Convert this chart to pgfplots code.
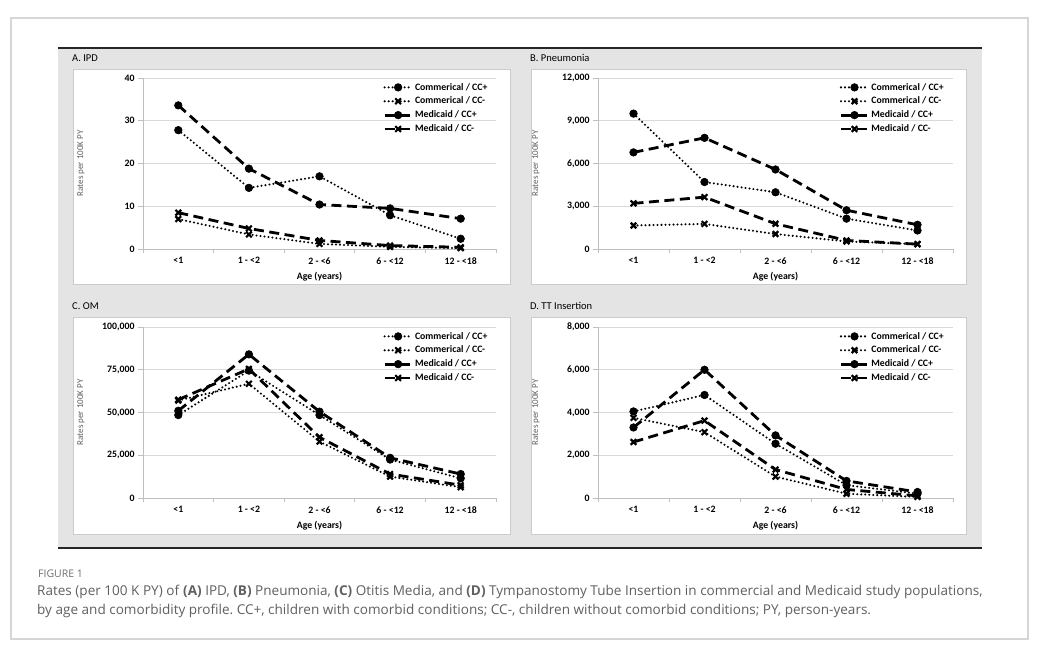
\documentclass[border=0pt]{standalone}
\usepackage{fontspec}
\setmainfont{Carlito}
\newfontfamily\capfont{Open Sans}
\usepackage{pgfplots}
\pgfplotsset{compat=1.18}

\definecolor{panelgray}{HTML}{E4E4E4}
\definecolor{boxedge}{HTML}{CCCCCC}
\definecolor{framegray}{HTML}{D6D6D6}
\definecolor{gridgray}{HTML}{D9D9D9}
\definecolor{axisgray}{HTML}{BFBFBF}
\definecolor{capgray}{HTML}{606060}

\pgfplotsset{
  ratechart/.style={
    scale only axis, height=171pt,
    xmin=-0.5, xmax=4.5, ymin=0,
    xtick={0,1,2,3,4},
    xticklabels={<1, 1 - <2, 2 - <6, 6 - <12, 12 - <18},
    minor xtick={-0.5,0.5,...,4.5},
    major x tick style={draw=none},
    axis x line*=bottom, axis y line*=left,
    axis line style={axisgray, line width=0.8pt, -},
    ymajorgrids, major grid style={gridgray, line width=0.8pt},
    tick style={axisgray, line width=0.8pt},
    tick align=outside, major tick length=5pt, minor tick length=4pt,
    ticklabel style={font=\bfseries\fontsize{9.8}{11}\selectfont, text=black},
    /pgf/number format/fixed,
    /pgf/number format/assume math mode=true,
    /pgf/number format/1000 sep={,},
    scaled y ticks=false,
    xlabel={Age (years)},
    ylabel={Rates per 100K PY},
    every axis x label/.style={at={(axis description cs:0.5,0)}, anchor=center,
      yshift=-28pt, font=\bfseries\fontsize{9.8}{11}\selectfont},
    every axis y label/.style={at={(axis description cs:0,0.5)}, anchor=center,
      xshift=-62pt, rotate=90, font=\fontsize{9}{10}\selectfont, text=capgray},
    legend style={draw=none, fill=none, at={(axis description cs:0.68,1)},
      anchor=north west, yshift=-3pt, inner sep=0pt, row sep=1.5pt,
      font=\bfseries\fontsize{9.8}{11}\selectfont, cells={anchor=west}},
    legend image code/.code={\draw[#1, mark repeat=2, mark phase=2]
      plot coordinates {(0pt,0pt) (13.5pt,0pt) (27pt,0pt)};},
    legend entries={Commerical / CC+, Commerical / CC-, Medicaid / CC+, Medicaid / CC-},
  },
  comp/.style={black, line width=2.3pt, line cap=round, dash pattern=on 0pt off 4pt,
    mark=*, mark size=3.8pt, mark options={solid, line width=0.6pt}},
  comm/.style={black, line width=2.3pt, line cap=round, dash pattern=on 0pt off 4pt,
    mark=x, mark size=4pt, mark options={solid, line width=2.2pt, line cap=butt}},
  medp/.style={black, line width=2.8pt, dash pattern=on 10pt off 5.5pt,
    mark=*, mark size=3.8pt, mark options={solid, line width=0.6pt}},
  medm/.style={black, line width=2.8pt, dash pattern=on 10pt off 5.5pt,
    mark=x, mark size=4pt, mark options={solid, line width=2.2pt, line cap=butt}},
}

\begin{document}
\frenchspacing
\begin{tikzpicture}
\useasboundingbox (0pt,0pt) rectangle (1040pt,653pt);
% frame, grey panel and white boxes
\draw[framegray, line width=1.2pt, fill=white] (11pt,14pt) rectangle (1028pt,635pt);
\fill[panelgray] (58pt,105pt) rectangle (982pt,605pt);
\draw[black!85, line width=1.5pt] (58pt,605pt) -- (982pt,605pt);
\draw[black!85, line width=1.5pt] (58pt,105pt) -- (982pt,105pt);
\draw[boxedge, fill=white] (73pt,369pt) rectangle (510pt,584pt);
\draw[boxedge, fill=white] (531pt,369pt) rectangle (966pt,584pt);
\draw[boxedge, fill=white] (73pt,119pt) rectangle (510pt,336pt);
\draw[boxedge, fill=white] (531pt,119pt) rectangle (966pt,336pt);
\node[anchor=base west, inner sep=0pt, font=\fontsize{10.5}{12}\selectfont] at (72pt,591pt) {A. IPD};
\node[anchor=base west, inner sep=0pt, font=\fontsize{10.5}{12}\selectfont] at (530pt,591pt) {B. Pneumonia};
\node[anchor=base west, inner sep=0pt, font=\fontsize{10.5}{12}\selectfont] at (72pt,343pt) {C. OM};
\node[anchor=base west, inner sep=0pt, font=\fontsize{10.5}{12}\selectfont] at (530pt,343pt) {D. TT Insertion};

% A. IPD
\begin{axis}[ratechart, at={(143pt,404pt)}, anchor=south west, width=353pt,
  ymax=40, ytick={0,10,20,30,40}]
\addplot[comp] coordinates {(0,27.8) (1,14.3) (2,17.0) (3,7.9) (4,2.4)};
\addplot[comm] coordinates {(0,7.0) (1,3.4) (2,1.2) (3,0.5) (4,0.2)};
\addplot[medp] coordinates {(0,33.6) (1,18.8) (2,10.4) (3,9.5) (4,7.1)};
\addplot[medm] coordinates {(0,8.5) (1,4.8) (2,2.0) (3,0.8) (4,0.4)};
\end{axis}

% B. Pneumonia
\begin{axis}[ratechart, at={(598pt,404pt)}, anchor=south west, width=355pt,
  ymax=12000, ytick={0,3000,6000,9000,12000}]
\addplot[comp] coordinates {(0,9500) (1,4700) (2,3980) (3,2130) (4,1300)};
\addplot[comm] coordinates {(0,1650) (1,1760) (2,1050) (3,530) (4,340)};
\addplot[medp] coordinates {(0,6780) (1,7800) (2,5580) (3,2720) (4,1700)};
\addplot[medm] coordinates {(0,3200) (1,3640) (2,1770) (3,600) (4,340)};
\end{axis}

% C. OM
\begin{axis}[ratechart, at={(143pt,155pt)}, anchor=south west, width=353pt,
  ymax=100000, ytick={0,25000,50000,75000,100000}]
\addplot[comp] coordinates {(0,48500) (1,74500) (2,48500) (3,22500) (4,11500)};
\addplot[comm] coordinates {(0,57000) (1,66800) (2,33000) (3,12500) (4,6300)};
\addplot[medp] coordinates {(0,51000) (1,84000) (2,50500) (3,23500) (4,14000)};
\addplot[medm] coordinates {(0,57500) (1,75500) (2,35500) (3,14000) (4,7500)};
\end{axis}

% D. TT Insertion
\begin{axis}[ratechart, at={(598pt,155pt)}, anchor=south west, width=355pt,
  ymax=8000, ytick={0,2000,4000,6000,8000}]
\addplot[comp] coordinates {(0,4050) (1,4820) (2,2540) (3,600) (4,200)};
\addplot[comm] coordinates {(0,3750) (1,3080) (2,1000) (3,200) (4,50)};
\addplot[medp] coordinates {(0,3300) (1,6000) (2,2930) (3,800) (4,280)};
\addplot[medm] coordinates {(0,2620) (1,3620) (2,1330) (3,400) (4,100)};
\end{axis}

% caption
\node[anchor=base west, inner sep=0pt, text=capgray!90, font=\capfont\fontsize{10.5}{12}\selectfont] at (38pt,76pt) {FIGURE 1};
\node[anchor=base west, inner sep=0pt, text=capgray, font=\capfont\fontsize{13.55}{15}\selectfont] at (37pt,58pt)
  {Rates (per 100 K PY) of \textbf{(A)} IPD, \textbf{(B)} Pneumonia, \textbf{(C)} Otitis Media, and \textbf{(D)} Tympanostomy Tube Insertion in commercial and Medicaid study populations,};
\node[anchor=base west, inner sep=0pt, text=capgray, font=\capfont\fontsize{13.55}{15}\selectfont] at (37pt,39pt)
  {by age and comorbidity profile. CC+, children with comorbid conditions; CC-, children without comorbid conditions; PY, person-years.};
\end{tikzpicture}
\end{document}
